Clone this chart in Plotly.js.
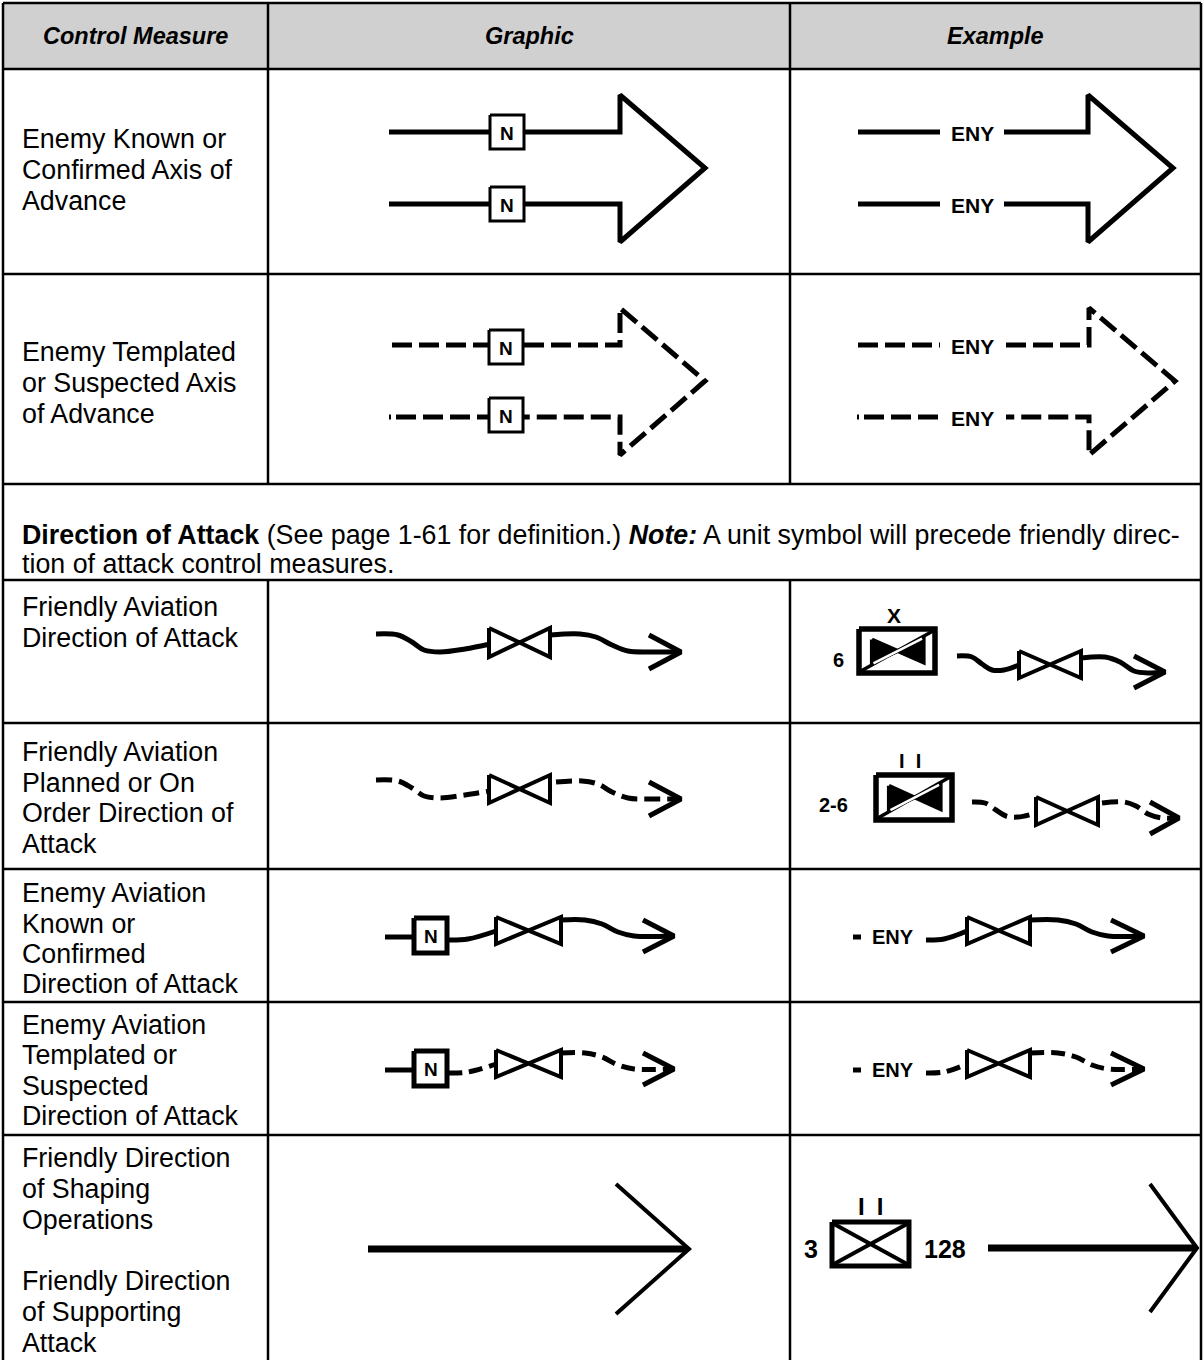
<!DOCTYPE html>
<html>
<head>
<meta charset="utf-8">
<script src="https://cdn.plot.ly/plotly-3.0.1.min.js"></script>
<style>
html,body{margin:0;padding:0;background:#fff;}
#chart{width:1203px;height:1360px;}
</style>
</head>
<body>
<div id="chart"></div>
<script>
// ---------------- DATA (text content) ----------------
const headers = ['Control Measure', 'Graphic', 'Example'];
const measureLabels = [
  ['Enemy Known or', 'Confirmed Axis of', 'Advance'],
  ['Enemy Templated', 'or Suspected Axis', 'of Advance'],
  ['Friendly Aviation', 'Direction of Attack'],
  ['Friendly Aviation', 'Planned or On', 'Order Direction of', 'Attack'],
  ['Enemy Aviation', 'Known or', 'Confirmed', 'Direction of Attack'],
  ['Enemy Aviation', 'Templated or', 'Suspected', 'Direction of Attack'],
  ['Friendly Direction', 'of Shaping', 'Operations', '', 'Friendly Direction', 'of Supporting', 'Attack']
];
const sectionNote = [
  '<b>Direction of Attack</b> (See page 1-61 for definition.) <b><i>Note:</i></b> A unit symbol will precede friendly direc-',
  'tion of attack control measures.'
];
const enemyBoxLabel = 'N';
const enemyText = 'ENY';
const unitNumbers = ['6', '2-6', '3'];
const unitEchelons = ['X', 'I\u00a0\u00a0I', 'I\u2002I'];
const unitDesignation = ['128'];

// ---------------- LAYOUT GEOMETRY ----------------
const W = 1203, H = 1360;
const colX = [3, 268, 790, 1201];
const rowY = [3, 69, 274, 484, 580, 723, 869, 1002, 1135, 1360];
const labelLineY = [
  [139, 170, 201],
  [352, 383, 414],
  [607, 638],
  [752, 783, 813, 844],
  [893, 924, 954, 984],
  [1025, 1055, 1086, 1116],
  [1158, 1189, 1220, 1251, 1281, 1312, 1343]
];
const noteLineY = [535, 564];
const FONT = 'Liberation Sans, Arial, sans-serif';
const LABEL_SIZE = 26.8;

const traces = [];
const shapes = [];
const annotations = [];

function line(pts, w, dash, spline, color) {
  traces.push({
    type: 'scatter', mode: 'lines',
    x: pts.map(p => p[0]), y: pts.map(p => p[1]),
    line: {color: color || '#000', width: w, dash: dash || 'solid', shape: spline ? 'spline' : 'linear', smoothing: 1},
    hoverinfo: 'skip', showlegend: false
  });
}
function filled(pts, fill, w) {
  const p = pts.concat([pts[0]]);
  traces.push({
    type: 'scatter', mode: 'lines',
    x: p.map(q => q[0]), y: p.map(q => q[1]),
    fill: 'toself', fillcolor: fill,
    line: {color: '#000', width: w, shape: 'linear'},
    hoverinfo: 'skip', showlegend: false
  });
}
function box(x0, y0, x1, y1, w) {
  filled([[x0, y0], [x1, y0], [x1, y1], [x0, y1]], '#fff', w);
}
function text(x, y, s, size, opts) {
  opts = opts || {};
  annotations.push({
    x, y, xref: 'x', yref: 'y', text: s, showarrow: false,
    xanchor: opts.anchor || 'center', yanchor: 'middle',
    font: {family: FONT, size, color: '#000', weight: opts.bold ? 'bold' : 'normal', style: opts.italic ? 'italic' : 'normal'}
  });
}
function hline(x0, x1, y, w) { shapes.push({type: 'line', xref: 'x', yref: 'y', x0, x1, y0: y, y1: y, line: {color: '#000', width: w}, layer: 'above'}); }
function vline(x, y0, y1, w) { shapes.push({type: 'line', xref: 'x', yref: 'y', x0: x, x1: x, y0, y1, line: {color: '#000', width: w}, layer: 'above'}); }

// ---------------- TABLE ----------------
shapes.push({type: 'rect', xref: 'x', yref: 'y', x0: colX[0], x1: colX[3], y0: rowY[0], y1: rowY[1], fillcolor: '#d0d0d0', line: {width: 0}, layer: 'below'});
rowY.slice(0, 9).forEach(y => hline(colX[0], colX[3], y, 2.5));
vline(colX[0], rowY[0], H, 2.5);
vline(colX[3], rowY[0], H, 2.5);
[1, 2].forEach(c => {
  vline(colX[c], rowY[0], rowY[3], 2.5);
  vline(colX[c], rowY[4], H, 2.5);
});
headers.forEach((h, i) => text((colX[i] + colX[i + 1]) / 2, (rowY[0] + rowY[1]) / 2, h, 23.5, {bold: true, italic: true}));
measureLabels.forEach((lines, r) => lines.forEach((s, k) => { if (s) text(20, labelLineY[r][k], s, LABEL_SIZE, {anchor: 'left'}); }));
sectionNote.forEach((s, k) => text(20, noteLineY[k], s, LABEL_SIZE, {anchor: 'left'}));

// ---------------- SYMBOLS ----------------
function nBox(cx, cy, lw) {
  box(cx - 17, cy - 17, cx + 17, cy + 17, lw || 3);
  text(cx, cy + 1, enemyBoxLabel, 19, {bold: true});
}
function bowtie(x0, x1, y0, y1, fill) {
  filled([[x0, y0], [x1, y1], [x1, y0], [x0, y1]], fill || '#fff', 4);
}
function arrowHead(bx, tx, ty, spread, w) { line([[bx, ty - spread], [tx, ty], [bx, ty + spread]], w); }
function aviationUnit(x0, y0, x1, y1) {
  box(x0, y0, x1, y1, 5.5);
  const bw = x1 - x0, bh = y1 - y0;
  bowtie(x0 + bw * 0.17, x1 - bw * 0.15, y0 + bh * 0.24, y1 - bh * 0.24, '#000');
  line([[x0 + 2, y1 - 2], [x1 - 2, y0 + 2]], 3.5);
  line([[x0 + bw * 0.19, y1 - bh * 0.22], [x1 - bw * 0.17, y0 + bh * 0.22]], 2.5, null, false, '#fff');
}

// Row 1: axis of advance (solid)
line([[389, 132], [490, 132]], 5); line([[389, 204], [490, 204]], 5);
line([[524, 132], [620, 132], [620, 95], [705, 168], [620, 242], [620, 204], [524, 204]], 5);
nBox(507, 132, 3); nBox(507, 204, 3);
// Row 1 example
line([[858, 132], [940, 132]], 5); line([[858, 204], [940, 204]], 5);
line([[1004, 132], [1088, 132], [1088, 95], [1173, 168], [1088, 242], [1088, 204], [1004, 204]], 5);
text(972, 133, enemyText, 21, {bold: true}); text(972, 205, enemyText, 21, {bold: true});

// Row 2: templated axis (dashed)
const D2 = '20px,7px';
line([[392, 345], [489, 345]], 5, D2);
line([[389, 417], [391, 417]], 5); line([[396, 417], [489, 417]], 5, D2);
line([[524, 345], [620, 345], [620, 308], [705, 381], [620, 455], [620, 417], [524, 417]], 5, D2);
nBox(506, 347, 3); nBox(506, 415, 3);
line([[858, 345], [940, 345]], 5, D2);
line([[857, 417], [859, 417]], 5); line([[864, 417], [940, 417]], 5, D2);
line([[1006, 345], [1089, 345], [1089, 308], [1175, 381], [1089, 455], [1089, 417], [1006, 417]], 5, D2);
text(972, 346, enemyText, 21, {bold: true}); text(972, 418, enemyText, 21, {bold: true});

// Row 4: friendly aviation direction of attack
line([[376, 634], [398, 635], [412, 642], [424, 650], [440, 652], [465, 649], [490, 644]], 5, null, true);
bowtie(489, 550, 628, 657);
line([[550, 635], [580, 634], [596, 637], [612, 645], [628, 651], [650, 652], [679, 652]], 5, null, true);
arrowHead(649, 681, 652, 17, 5);
// example
aviationUnit(859, 629, 935, 673);
text(838, 660, unitNumbers[0], 20, {bold: true});
text(894, 615, unitEchelons[0], 21, {bold: true});
line([[957, 656], [972, 657], [982, 664], [992, 670], [1004, 670], [1019, 665]], 5, null, true);
bowtie(1019, 1081, 651, 678);
line([[1081, 658], [1105, 657], [1120, 662], [1134, 671], [1148, 673], [1163, 672]], 5, null, true);
arrowHead(1134, 1165, 672, 16, 5);

// Row 5: friendly aviation planned
const D5 = '16px,7px';
line([[376, 780], [398, 781], [412, 788], [424, 796], [440, 798], [465, 795], [490, 791]], 5, D5, true);
bowtie(489, 550, 775, 803);
line([[556, 782], [582, 781], [598, 784], [612, 792], [628, 798], [650, 799], [679, 799]], 5, D5, true);
arrowHead(649, 681, 799, 17, 5);
aviationUnit(876, 775, 952, 820);
text(833, 805, unitNumbers[1], 20, {bold: true});
text(910, 761, unitEchelons[1], 20, {bold: true});
line([[972, 802], [985, 803], [996, 810], [1006, 816], [1018, 817], [1036, 813]], 5, D5, true);
bowtie(1036, 1098, 797, 825);
line([[1102, 803], [1124, 802], [1136, 806], [1148, 814], [1162, 818], [1177, 818]], 5, D5, true);
arrowHead(1150, 1179, 818, 16, 5);

// Rows 6-7: enemy aviation
function enemyAviation(cy, dashed, example) {
  const dash = dashed ? '14px,7px' : null;
  if (!example) {
    line([[385, cy + 1], [412, cy + 1]], 5);
    box(414, cy - 18, 447, cy + 17, 5);
    text(430.5, cy, enemyBoxLabel, 19, {bold: true});
    line([[448, cy + 4], [468, cy + 3], [496, cy - 5]], 5, dash, true);
    bowtie(496, 561, cy - 19, cy + 8);
    line([[561, cy - 16], [585, cy - 16], [602, cy - 12], [618, cy - 4], [634, cy], [672, cy]], 5, dash, true);
    arrowHead(643, 674, cy, 16, 5);
  } else {
    line([[853, cy + 1], [861, cy + 1]], 5);
    text(893, cy + 1, enemyText, 20, {bold: true});
    line([[926, cy + 4], [944, cy + 3], [967, cy - 5]], 5, dash, true);
    bowtie(967, 1030, cy - 19, cy + 8);
    line([[1030, cy - 16], [1058, cy - 16], [1076, cy - 12], [1092, cy - 4], [1108, cy], [1142, cy]], 5, dash, true);
    arrowHead(1111, 1144, cy, 16, 5);
  }
}
enemyAviation(936, false, false); enemyAviation(936, false, true);
enemyAviation(1069, true, false); enemyAviation(1069, true, true);

// Row 8: shaping / supporting
line([[368, 1249], [686, 1249]], 7);
arrowHead(616, 689, 1249, 65, 4);
box(832, 1222, 909, 1266, 5);
line([[834, 1224], [907, 1264]], 4); line([[834, 1264], [907, 1224]], 4);
text(870, 1206, unitEchelons[2], 24, {bold: true});
text(811, 1249, unitNumbers[2], 25, {bold: true});
text(945, 1249, unitDesignation[0], 25, {bold: true});
line([[988, 1248], [1195, 1248]], 7);
arrowHead(1150, 1197, 1248, 64, 4);

const layout = {
  width: W, height: H,
  margin: {l: 0, r: 0, t: 0, b: 0, pad: 0},
  paper_bgcolor: '#fff', plot_bgcolor: '#fff',
  xaxis: {range: [0, W], visible: false, fixedrange: true},
  yaxis: {range: [H, 0], visible: false, fixedrange: true},
  shapes, annotations, showlegend: false
};
Plotly.newPlot('chart', traces, layout, {staticPlot: true, displayModeBar: false});
</script>
</body>
</html>
